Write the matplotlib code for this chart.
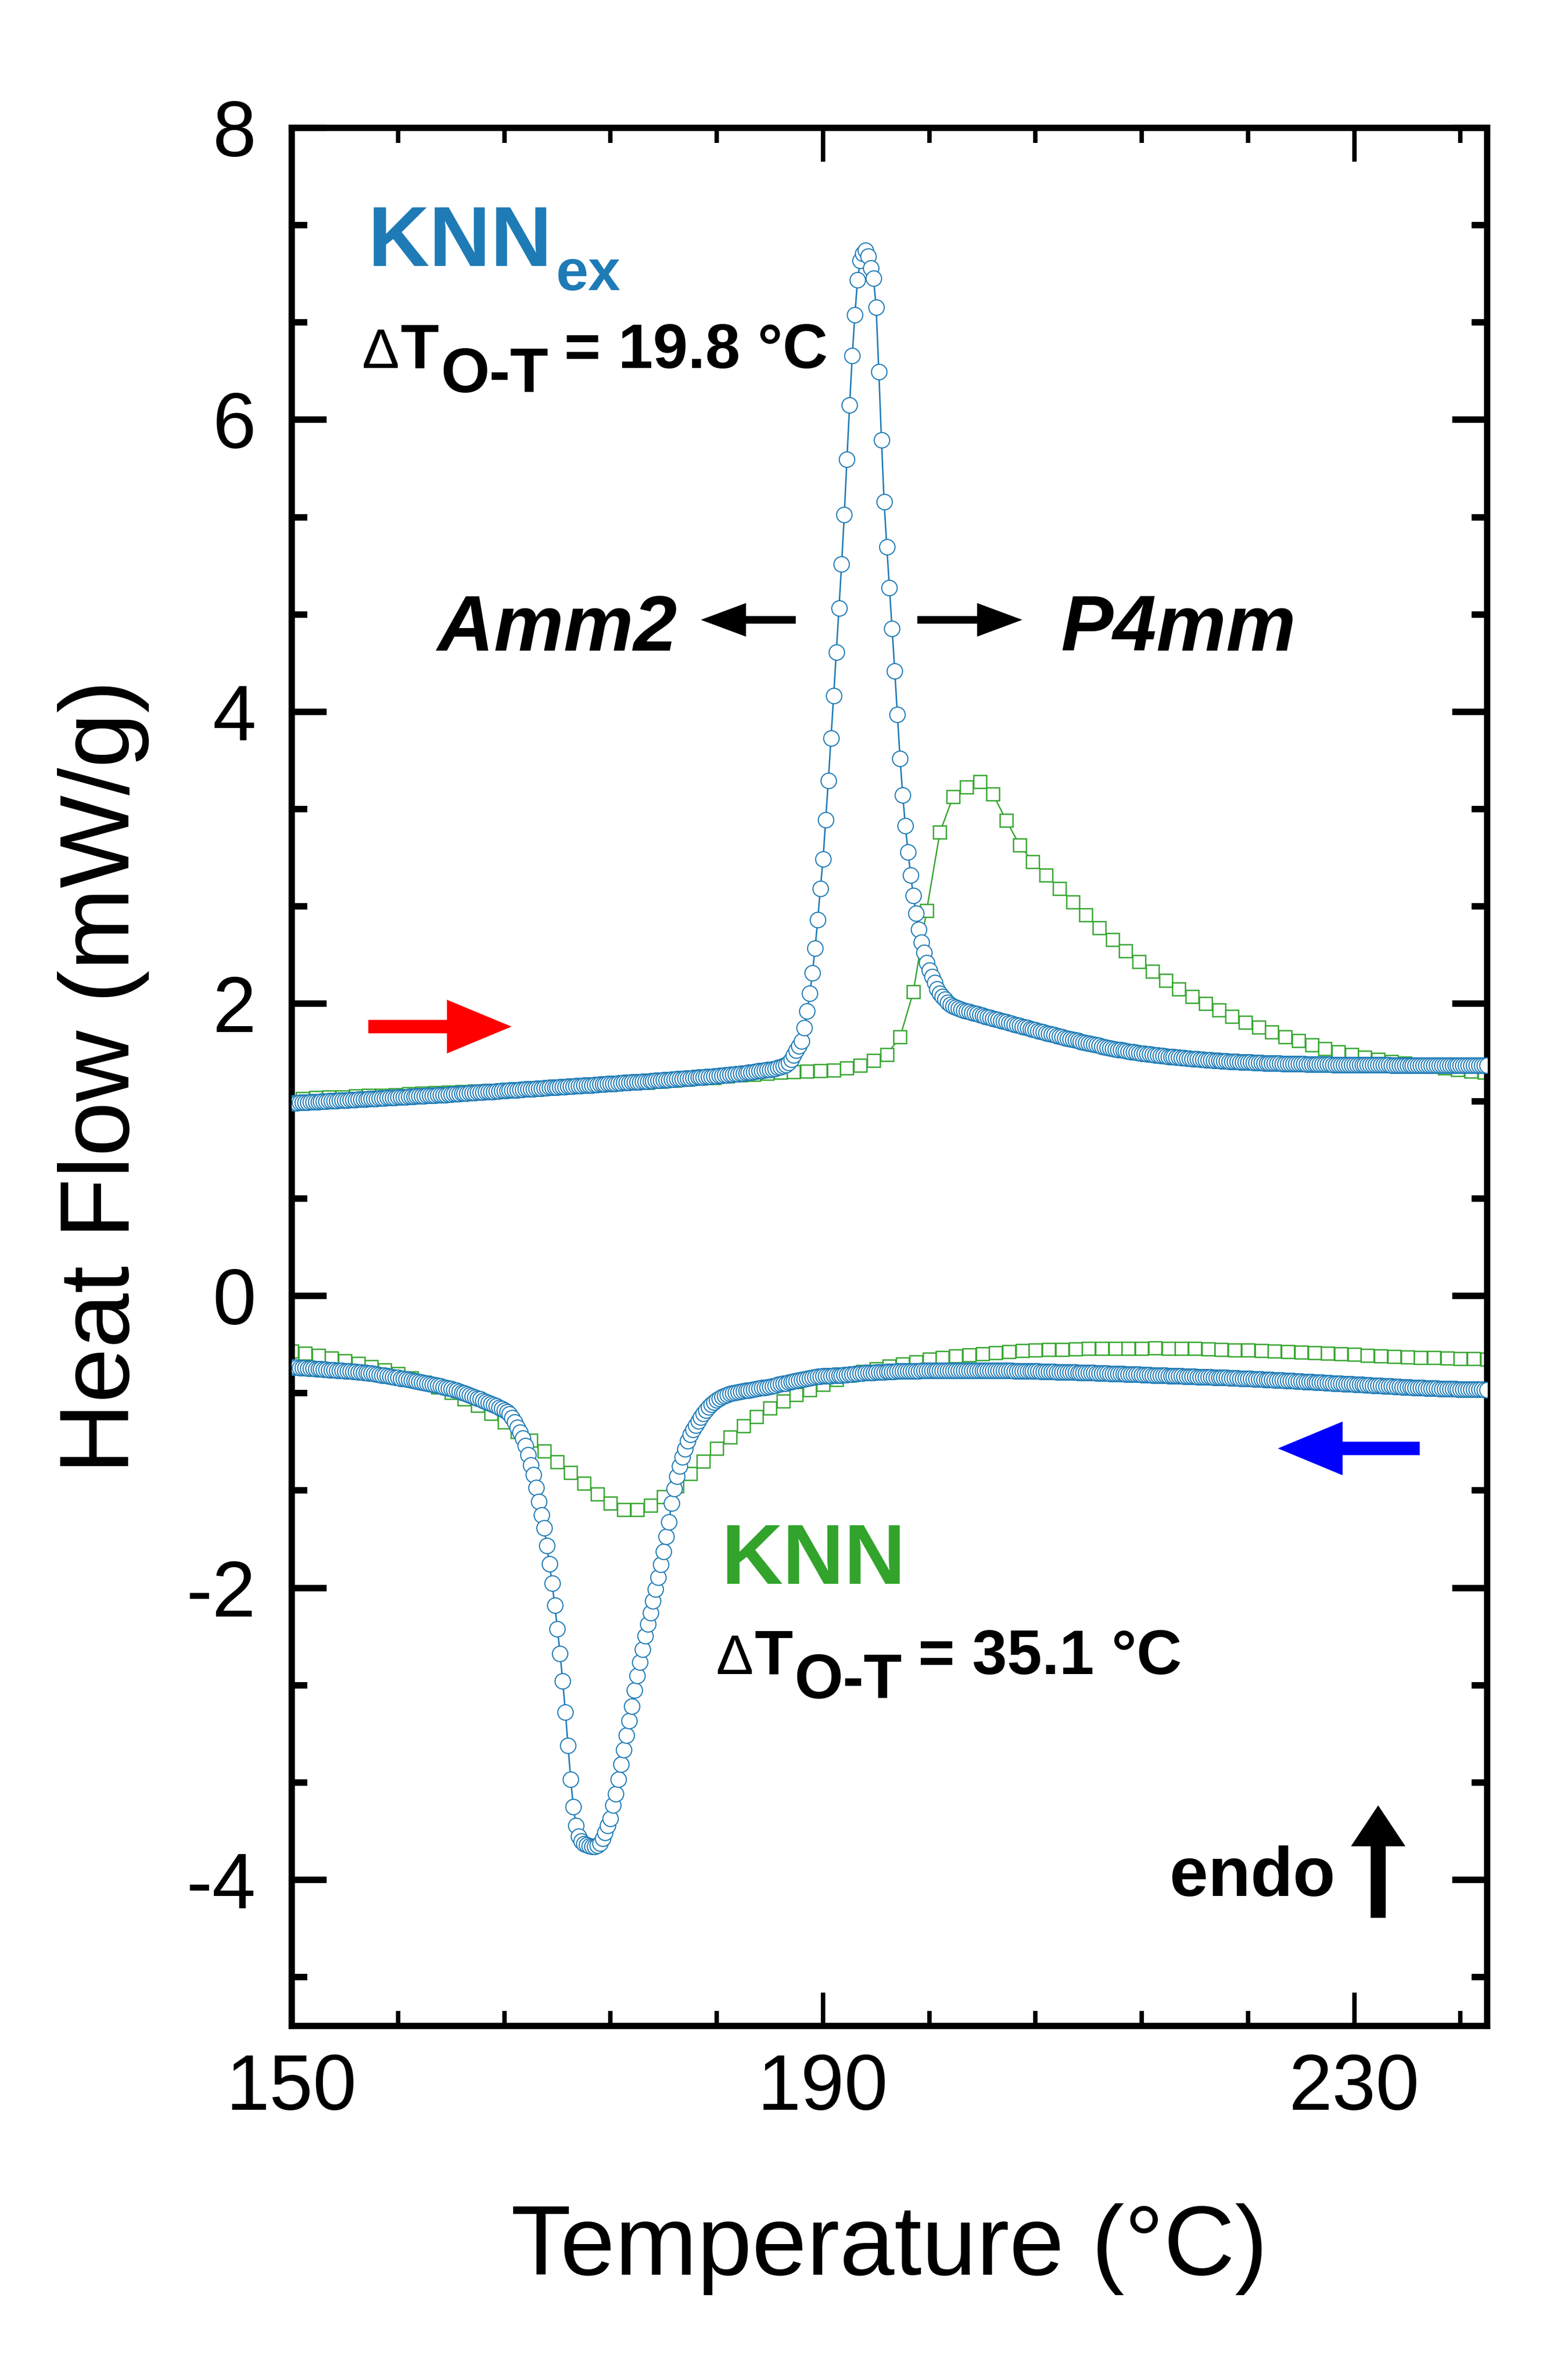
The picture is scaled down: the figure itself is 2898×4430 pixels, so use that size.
import numpy as np
import matplotlib
matplotlib.use("Agg")
import matplotlib.pyplot as plt
from matplotlib.ticker import FixedLocator
from matplotlib.patches import FancyArrow

plt.rcParams['font.family'] = ['Liberation Sans', 'DejaVu Sans']
plt.rcParams['axes.unicode_minus'] = False

# ---------------- data ----------------
# KNNex, sampled every 0.2 degC from 150 to 240
T_knnex = np.round(np.arange(150.0, 240.0001, 0.2), 1)

knnex_heating = [
    1.320, 1.321, 1.322, 1.323, 1.324, 1.325, 1.326, 1.327, 1.328, 1.329,
    1.330, 1.331, 1.332, 1.333, 1.334, 1.335, 1.336, 1.337, 1.338, 1.339,
    1.340, 1.341, 1.342, 1.343, 1.344, 1.345, 1.346, 1.347, 1.348, 1.349,
    1.350, 1.351, 1.352, 1.353, 1.354, 1.355, 1.356, 1.357, 1.358, 1.359,
    1.360, 1.361, 1.362, 1.363, 1.364, 1.365, 1.366, 1.367, 1.368, 1.369,
    1.370, 1.371, 1.372, 1.373, 1.374, 1.375, 1.376, 1.377, 1.378, 1.380,
    1.381, 1.382, 1.383, 1.385, 1.386, 1.387, 1.388, 1.390, 1.391, 1.392,
    1.393, 1.394, 1.396, 1.397, 1.398, 1.399, 1.400, 1.402, 1.403, 1.404,
    1.405, 1.406, 1.408, 1.409, 1.410, 1.411, 1.412, 1.414, 1.415, 1.416,
    1.417, 1.418, 1.420, 1.421, 1.422, 1.423, 1.424, 1.426, 1.427, 1.428,
    1.429, 1.430, 1.431, 1.432, 1.434, 1.435, 1.436, 1.437, 1.438, 1.440,
    1.441, 1.442, 1.443, 1.444, 1.446, 1.447, 1.448, 1.449, 1.450, 1.452,
    1.453, 1.454, 1.455, 1.456, 1.458, 1.459, 1.460, 1.461, 1.463, 1.464,
    1.465, 1.466, 1.468, 1.469, 1.470, 1.471, 1.473, 1.474, 1.475, 1.477,
    1.478, 1.479, 1.481, 1.482, 1.483, 1.485, 1.486, 1.487, 1.489, 1.490,
    1.491, 1.493, 1.494, 1.496, 1.497, 1.499, 1.500, 1.502, 1.503, 1.505,
    1.506, 1.508, 1.510, 1.512, 1.513, 1.515, 1.517, 1.519, 1.521, 1.523,
    1.525, 1.527, 1.530, 1.532, 1.534, 1.537, 1.540, 1.542, 1.545, 1.548,
    1.550, 1.553, 1.557, 1.562, 1.568, 1.575, 1.583, 1.597, 1.618, 1.650,
    1.680, 1.710, 1.745, 1.835, 1.950, 2.070, 2.210, 2.380, 2.575, 2.790,
    2.99, 3.26, 3.53, 3.82, 4.11, 4.41, 4.71, 5.01, 5.35, 5.73,
    6.10, 6.44, 6.72, 6.96, 7.09, 7.14, 7.16, 7.12, 7.04, 6.97,
    6.77, 6.33, 5.86, 5.44, 5.13, 4.85, 4.57, 4.28, 3.98, 3.68,
    3.43, 3.22, 3.04, 2.88, 2.74, 2.62, 2.51, 2.42, 2.35, 2.28,
    2.230, 2.185, 2.145, 2.100, 2.070, 2.050, 2.030, 2.010, 1.995, 1.985,
    1.975, 1.967, 1.960, 1.955, 1.950, 1.945, 1.940, 1.935, 1.930, 1.925,
    1.920, 1.915, 1.910, 1.905, 1.900, 1.895, 1.890, 1.885, 1.880, 1.875,
    1.870, 1.865, 1.860, 1.855, 1.850, 1.845, 1.840, 1.835, 1.830, 1.825,
    1.820, 1.815, 1.811, 1.806, 1.801, 1.796, 1.791, 1.787, 1.782, 1.777,
    1.772, 1.768, 1.763, 1.759, 1.754, 1.750, 1.746, 1.741, 1.737, 1.733,
    1.729, 1.725, 1.721, 1.717, 1.713, 1.709, 1.705, 1.701, 1.697, 1.694,
    1.690, 1.687, 1.684, 1.681, 1.678, 1.675, 1.672, 1.669, 1.666, 1.663,
    1.661, 1.659, 1.656, 1.654, 1.651, 1.649, 1.647, 1.645, 1.643, 1.641,
    1.639, 1.637, 1.636, 1.634, 1.632, 1.630, 1.629, 1.627, 1.625, 1.624,
    1.622, 1.621, 1.620, 1.618, 1.617, 1.615, 1.614, 1.613, 1.612, 1.610,
    1.609, 1.608, 1.607, 1.606, 1.605, 1.604, 1.603, 1.602, 1.601, 1.600,
    1.600, 1.599, 1.598, 1.597, 1.597, 1.596, 1.595, 1.595, 1.594, 1.593,
    1.593, 1.592, 1.592, 1.591, 1.591, 1.590, 1.590, 1.589, 1.589, 1.588,
    1.588, 1.588, 1.587, 1.587, 1.587, 1.586, 1.586, 1.586, 1.585, 1.585,
    1.585, 1.585, 1.584, 1.584, 1.584, 1.584, 1.583, 1.583, 1.583, 1.583,
    1.583, 1.582, 1.582, 1.582, 1.582, 1.582, 1.582, 1.581, 1.581, 1.581,
    1.581, 1.581, 1.581, 1.581, 1.580, 1.580, 1.580, 1.580, 1.580, 1.580,
    1.580, 1.580, 1.580, 1.580, 1.580, 1.579, 1.579, 1.579, 1.579, 1.579,
    1.579, 1.579, 1.579, 1.579, 1.579, 1.578, 1.578, 1.578, 1.578, 1.578,
    1.578, 1.578, 1.578, 1.578, 1.578, 1.578, 1.577, 1.577, 1.577, 1.577,
    1.577,
]

knnex_cooling = [
    -0.488, -0.489, -0.490, -0.492, -0.493, -0.494, -0.496, -0.497, -0.498, -0.500,
    -0.501, -0.502, -0.504, -0.505, -0.506, -0.508, -0.509, -0.510, -0.512, -0.513,
    -0.514, -0.516, -0.517, -0.518, -0.520, -0.521, -0.523, -0.525, -0.527, -0.529,
    -0.531, -0.534, -0.537, -0.540, -0.543, -0.546, -0.549, -0.552, -0.555, -0.558,
    -0.561, -0.565, -0.568, -0.571, -0.574, -0.578, -0.581, -0.585, -0.588, -0.592,
    -0.596, -0.600, -0.604, -0.608, -0.612, -0.616, -0.620, -0.624, -0.628, -0.632,
    -0.637, -0.643, -0.649, -0.655, -0.661, -0.667, -0.673, -0.680, -0.687, -0.694,
    -0.701, -0.708, -0.716, -0.724, -0.732, -0.740, -0.748, -0.756, -0.764, -0.773,
    -0.785, -0.795, -0.810, -0.835, -0.865, -0.900, -0.935, -0.975, -1.025, -1.090,
    -1.160, -1.225, -1.315, -1.410, -1.500, -1.590, -1.710, -1.835, -1.970, -2.120,
    -2.280, -2.450, -2.640, -2.850, -3.080, -3.310, -3.500, -3.630, -3.700, -3.735,
    -3.752, -3.762, -3.768, -3.771, -3.771, -3.766, -3.748, -3.718, -3.675, -3.630,
    -3.580, -3.490, -3.410, -3.310, -3.210, -3.110, -3.010, -2.910, -2.810, -2.700,
    -2.600, -2.510, -2.420, -2.330, -2.250, -2.170, -2.090, -2.010, -1.930, -1.840,
    -1.750, -1.650, -1.550, -1.420, -1.320, -1.235, -1.165, -1.105, -1.050, -0.995,
    -0.950, -0.915, -0.885, -0.857, -0.830, -0.805, -0.783, -0.763, -0.745, -0.728,
    -0.714, -0.702, -0.692, -0.684, -0.677, -0.671, -0.666, -0.662, -0.658, -0.655,
    -0.652, -0.649, -0.646, -0.643, -0.640, -0.637, -0.634, -0.631, -0.628, -0.625,
    -0.621, -0.617, -0.613, -0.609, -0.605, -0.601, -0.598, -0.594, -0.590, -0.586,
    -0.582, -0.578, -0.574, -0.570, -0.566, -0.562, -0.559, -0.556, -0.553, -0.551,
    -0.550, -0.549, -0.548, -0.547, -0.546, -0.545, -0.544, -0.543, -0.542, -0.541,
    -0.539, -0.537, -0.535, -0.533, -0.531, -0.529, -0.528, -0.527, -0.526, -0.525,
    -0.524, -0.523, -0.522, -0.521, -0.520, -0.519, -0.518, -0.518, -0.517, -0.517,
    -0.516, -0.516, -0.515, -0.515, -0.514, -0.514, -0.514, -0.513, -0.513, -0.513,
    -0.513, -0.512, -0.512, -0.512, -0.512, -0.512, -0.512, -0.512, -0.512, -0.512,
    -0.511, -0.511, -0.511, -0.511, -0.511, -0.511, -0.511, -0.511, -0.511, -0.511,
    -0.511, -0.511, -0.511, -0.512, -0.512, -0.512, -0.512, -0.512, -0.513, -0.513,
    -0.513, -0.513, -0.514, -0.514, -0.514, -0.515, -0.515, -0.515, -0.516, -0.516,
    -0.517, -0.517, -0.518, -0.518, -0.519, -0.519, -0.520, -0.520, -0.521, -0.521,
    -0.522, -0.522, -0.523, -0.523, -0.524, -0.524, -0.525, -0.525, -0.526, -0.526,
    -0.527, -0.527, -0.528, -0.529, -0.529, -0.530, -0.531, -0.531, -0.532, -0.533,
    -0.533, -0.534, -0.535, -0.535, -0.536, -0.537, -0.537, -0.538, -0.539, -0.539,
    -0.540, -0.541, -0.541, -0.542, -0.543, -0.543, -0.544, -0.545, -0.545, -0.546,
    -0.547, -0.547, -0.548, -0.549, -0.549, -0.550, -0.551, -0.551, -0.552, -0.553,
    -0.553, -0.554, -0.555, -0.555, -0.556, -0.557, -0.557, -0.558, -0.559, -0.559,
    -0.560, -0.561, -0.561, -0.562, -0.563, -0.564, -0.564, -0.565, -0.566, -0.567,
    -0.568, -0.568, -0.569, -0.570, -0.571, -0.572, -0.573, -0.573, -0.574, -0.575,
    -0.576, -0.577, -0.578, -0.579, -0.580, -0.581, -0.582, -0.583, -0.584, -0.585,
    -0.586, -0.587, -0.588, -0.589, -0.590, -0.591, -0.592, -0.593, -0.594, -0.595,
    -0.596, -0.597, -0.598, -0.599, -0.600, -0.601, -0.602, -0.603, -0.604, -0.605,
    -0.606, -0.607, -0.608, -0.609, -0.610, -0.611, -0.612, -0.613, -0.614, -0.615,
    -0.616, -0.617, -0.618, -0.619, -0.620, -0.621, -0.622, -0.623, -0.624, -0.625,
    -0.626, -0.627, -0.628, -0.629, -0.629, -0.630, -0.631, -0.632, -0.632, -0.633,
    -0.634, -0.634, -0.635, -0.636, -0.636, -0.637, -0.637, -0.638, -0.638, -0.639,
    -0.639, -0.640, -0.640, -0.641, -0.641, -0.641, -0.642, -0.642, -0.642, -0.643,
    -0.643,
]

# KNN heating, sampled every 1 degC
T_knn_heat = np.round(np.arange(150.8, 239.81, 1.0), 1)
knn_heating = [
    1.350, 1.356, 1.360, 1.362, 1.368, 1.372, 1.374, 1.378, 1.382, 1.388,
    1.390, 1.395, 1.399, 1.402, 1.406, 1.410, 1.413, 1.418, 1.422, 1.427,
    1.432, 1.437, 1.442, 1.447, 1.452, 1.457, 1.462, 1.470, 1.477, 1.483,
    1.490, 1.495, 1.504, 1.511, 1.517, 1.524, 1.530, 1.535, 1.539, 1.542,
    1.545, 1.561, 1.578, 1.611, 1.653, 1.772, 2.083, 2.638, 3.175, 3.420,
    3.485, 3.520, 3.436, 3.255, 3.088, 2.973, 2.881, 2.789, 2.697, 2.608,
    2.520, 2.440, 2.362, 2.289, 2.223, 2.161, 2.101, 2.050, 2.002, 1.959,
    1.914, 1.873, 1.840, 1.808, 1.775, 1.746, 1.718, 1.693, 1.672, 1.652,
    1.635, 1.619, 1.606, 1.594, 1.583, 1.570, 1.561, 1.548, 1.537, 1.529,
]

# KNN cooling, sampled every 1 degC
T_knn_cool = np.round(np.arange(150.0, 240.01, 1.0), 1)
knn_cooling = [
    -0.379, -0.392, -0.408, -0.426, -0.446, -0.464, -0.486, -0.509, -0.535, -0.563,
    -0.591, -0.624, -0.661, -0.705, -0.750, -0.805, -0.866, -0.930, -0.990, -1.064,
    -1.137, -1.211, -1.284, -1.358, -1.419, -1.465, -1.465, -1.436, -1.378, -1.304,
    -1.218, -1.132, -1.045, -0.967, -0.889, -0.829, -0.770, -0.722, -0.676, -0.643,
    -0.607, -0.575, -0.545, -0.520, -0.499, -0.483, -0.467, -0.452, -0.436, -0.423,
    -0.413, -0.405, -0.398, -0.390, -0.384, -0.377, -0.372, -0.369, -0.368, -0.364,
    -0.361, -0.361, -0.359, -0.359, -0.359, -0.357, -0.359, -0.361, -0.361, -0.365,
    -0.368, -0.370, -0.373, -0.376, -0.379, -0.382, -0.385, -0.389, -0.392, -0.397,
    -0.401, -0.407, -0.411, -0.415, -0.419, -0.422, -0.424, -0.427, -0.429, -0.431,
    -0.434,
]

x_ticks_major = [150, 190, 230]
x_ticks_minor = [158, 166, 174, 182, 198, 206, 214, 222, 238]
y_ticks_major = [-4, -2, 0, 2, 4, 6, 8]

# ---------------- styling ----------------
BLUE = '#1f7bb6'
GREEN = '#32a42c'

fig = plt.figure(figsize=(9.66, 14.7667), dpi=300)
ax = fig.add_axes([0.1874, 0.1488, 0.7677, 0.7975])

# green first (underneath), then blue
ax.plot(T_knn_cool, knn_cooling, '-', color=GREEN, lw=0.6, marker='s', ms=5.8,
        mfc='white', mec=GREEN, mew=0.6, zorder=2)
ax.plot(T_knn_heat, knn_heating, '-', color=GREEN, lw=0.6, marker='s', ms=5.8,
        mfc='white', mec=GREEN, mew=0.6, zorder=2)
ax.plot(T_knnex, knnex_cooling, '-', color=BLUE, lw=0.65, marker='o', ms=6.9,
        mfc='white', mec=BLUE, mew=0.5, zorder=3)
ax.plot(T_knnex, knnex_heating, '-', color=BLUE, lw=0.65, marker='o', ms=6.9,
        mfc='white', mec=BLUE, mew=0.5, zorder=3)

ax.set_xlim(150, 240)
ax.set_ylim(-5, 8)
ax.set_xticks(x_ticks_major)
ax.set_yticks(y_ticks_major)
ax.xaxis.set_minor_locator(FixedLocator(x_ticks_minor))
ax.yaxis.set_minor_locator(FixedLocator([-14 / 3, -10 / 3, -8 / 3, -4 / 3, -2 / 3,
                                         2 / 3, 4 / 3, 8 / 3, 10 / 3, 14 / 3,
                                         16 / 3, 20 / 3, 22 / 3]))

for s in ax.spines.values():
    s.set_linewidth(2.8)

ax.tick_params(which='both', direction='in', top=True, right=True)
ax.tick_params(axis='x', which='major', length=15, width=2.0, labelsize=35, pad=12)
ax.tick_params(axis='x', which='minor', length=6.8, width=2.0)
ax.tick_params(axis='y', which='major', length=15.5, width=2.9, labelsize=35, pad=16)
ax.tick_params(axis='y', which='minor', length=7.0, width=2.9)

ax.set_xlabel('Temperature (°C)', fontsize=44)
ax.xaxis.set_label_coords(0.5, -0.1177)
ax.xaxis.label.set_va('center')
ax.set_ylabel('Heat Flow (mW/g)', fontsize=44)
ax.yaxis.set_label_coords(-0.1578, 0.5)
ax.yaxis.label.set_va('center')

# ---------------- annotations ----------------
bold = dict(fontweight='bold', va='baseline', ha='left')
ax.text(155.7, 7.055, 'KNN', color=BLUE, fontsize=38, **bold)
ax.text(169.9, 6.89, 'ex', color=BLUE, fontsize=26, **bold)
ax.text(155.3, 6.353, 'Δ', color='black', fontsize=25, va='baseline', ha='left')
ax.text(158.2, 6.353, 'T', color='black', fontsize=28, **bold)
ax.text(161.2, 6.188, 'O-T', color='black', fontsize=28, **bold)
ax.text(170.5, 6.353, '= 19.8 °C', color='black', fontsize=28, **bold)

ax.text(182.35, -1.974, 'KNN', color=GREEN, fontsize=38, **bold)
ax.text(181.95, -2.592, 'Δ', color='black', fontsize=25, va='baseline', ha='left')
ax.text(184.85, -2.592, 'T', color='black', fontsize=28, **bold)
ax.text(187.85, -2.756, 'O-T', color='black', fontsize=28, **bold)
ax.text(197.15, -2.592, '= 35.1 °C', color='black', fontsize=28, **bold)

ax.text(160.95, 4.42, 'Amm2', color='black', fontsize=35, fontweight='bold',
        fontstyle='italic', va='baseline', ha='left')
ax.text(207.9, 4.42, 'P4mm', color='black', fontsize=35, fontweight='bold',
        fontstyle='italic', va='baseline', ha='left')
ax.text(216.1, -4.11, 'endo', color='black', fontsize=31, fontweight='bold',
        va='baseline', ha='left')

# arrows
ax.add_patch(FancyArrow(187.95, 4.63, -7.15, 0, width=0.052, head_width=0.23,
                        head_length=3.4, length_includes_head=True,
                        color='black', lw=0, zorder=4))
ax.add_patch(FancyArrow(197.1, 4.63, 7.9, 0, width=0.052, head_width=0.23,
                        head_length=3.4, length_includes_head=True,
                        color='black', lw=0, zorder=4))
ax.add_patch(FancyArrow(155.76, 1.844, 10.79, 0, width=0.092, head_width=0.368,
                        head_length=4.87, length_includes_head=True,
                        color='#ff0000', lw=0, zorder=4))
ax.add_patch(FancyArrow(234.93, -1.045, -10.68, 0, width=0.092, head_width=0.368,
                        head_length=4.87, length_includes_head=True,
                        color='#0000ff', lw=0, zorder=4))
ax.add_patch(FancyArrow(231.8, -4.26, 0, 0.77, width=1.13, head_width=4.1,
                        head_length=0.28, length_includes_head=True,
                        color='black', lw=0, zorder=4))

fig.savefig('out.png', dpi=300)
